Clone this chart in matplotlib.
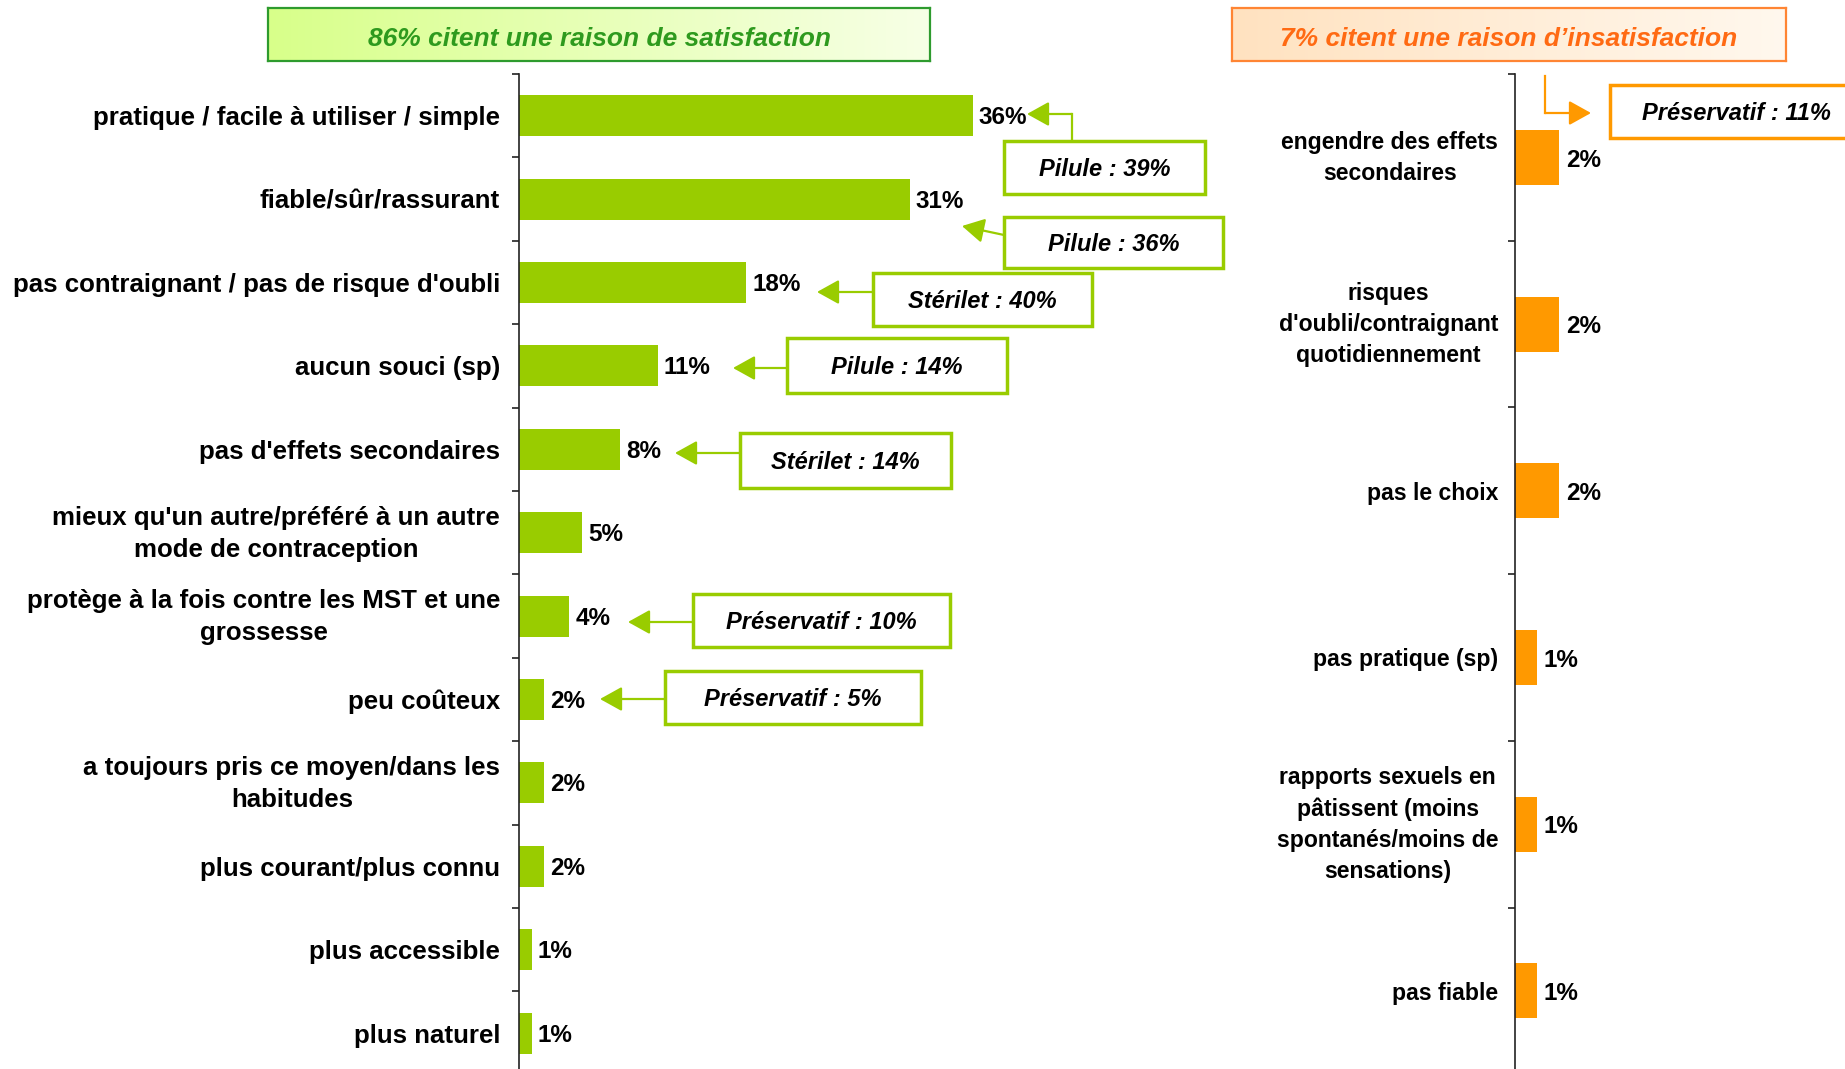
import numpy as np
import matplotlib
matplotlib.use('Agg')
import matplotlib.pyplot as plt
from matplotlib.patches import Rectangle, FancyArrowPatch
from matplotlib.transforms import Affine2D, ScaledTranslation, blended_transform_factory
from matplotlib.lines import Line2D
from matplotlib.colors import LinearSegmentedColormap

# ---------------- data ----------------
sat_title = "86% citent une raison de satisfaction"
sat_labels = [
    "pratique / facile à utiliser / simple",
    "fiable/sûr/rassurant",
    "pas contraignant / pas de risque d'oubli",
    "aucun souci (sp)",
    "pas d'effets secondaires",
    "mieux qu'un autre/préféré à un autre\nmode de contraception",
    "protège à la fois contre les MST et une\ngrossesse",
    "peu coûteux",
    "a toujours pris ce moyen/dans les\nhabitudes",
    "plus courant/plus connu",
    "plus accessible",
    "plus naturel",
]
sat_values = [36, 31, 18, 11, 8, 5, 4, 2, 2, 2, 1, 1]

insat_title = "7% citent une raison d\u2019insatisfaction"
insat_labels = [
    "engendre des effets\nsecondaires",
    "risques\nd'oubli/contraignant\nquotidiennement",
    "pas le choix",
    "pas pratique (sp)",
    "rapports sexuels en\npâtissent (moins\nspontanés/moins de\nsensations)",
    "pas fiable",
]
insat_values = [2, 2, 2, 1, 1, 1]

sat_callouts = ["Pilule : 39%", "Pilule : 36%", "Stérilet : 40%", "Pilule : 14%",
                "Stérilet : 14%", "Préservatif : 10%", "Préservatif : 5%"]
insat_callout = "Préservatif : 11%"

# ---------------- layout (pixels, from top-left) ----------------
W, H, DPI = 1845, 1069, 100
GREEN, ORANGE = '#99CC00', '#FF9900'

sat_boxes = [(1004, 141, 1205, 194), (1004, 217, 1223, 268), (873, 273, 1092, 326),
             (787, 338, 1007, 393), (740, 433, 951, 488), (693, 594, 950, 647),
             (665, 671, 921, 724)]
sat_arrows = [[(1072, 141), (1072, 114), (1027, 114)],
              [(1004, 235), (962, 226)],
              [(872, 292), (817, 292)],
              [(786, 368), (733, 368)],
              [(739, 453), (675, 453)],
              [(692, 622), (628, 622)],
              [(664, 699), (600, 699)]]
insat_box = (1610, 85, 1862, 138)
insat_arrow = [(1545, 76), (1545, 113), (1591, 113)]

plt.rcParams['font.family'] = ['Liberation Sans', 'DejaVu Sans']

fig = plt.figure(figsize=(W / DPI, H / DPI), dpi=DPI)
fig.patch.set_facecolor('white')
px = Affine2D().scale(1 / W, -1 / H).translate(0, 1) + fig.transFigure


def rect(x0, y0, x1, y1):
    return [x0 / W, 1 - y1 / H, (x1 - x0) / W, (y1 - y0) / H]


def style_axis(ax, n, labels, pad, fs, ls, lift):
    ax.set_ylim(n - 0.5, -0.5)
    ax.set_yticks(range(n))
    ax.set_yticklabels([])
    ax.set_yticks(np.arange(-0.5, n, 1), minor=True)
    ax.tick_params(axis='y', which='major', length=0)
    ax.tick_params(axis='y', which='minor', length=5, width=1.2, color='#222222')
    ax.set_xticks([])
    for s in ['top', 'right', 'bottom']:
        ax.spines[s].set_visible(False)
    ax.spines['left'].set_linewidth(1.2)
    ax.spines['left'].set_color('#222222')
    base = blended_transform_factory(ax.transAxes, ax.transData)
    for i, lab in enumerate(labels):
        dy = lift if '\n' in lab else 0
        tr = base + ScaledTranslation(-pad / 72, dy / 72, fig.dpi_scale_trans)
        ax.text(0, i, lab, transform=tr, ha='right', va='center_baseline',
                multialignment='center', linespacing=ls, fontsize=fs,
                fontweight='bold', color='black')


# ---------------- left chart ----------------
n1 = len(sat_values)
ax1 = fig.add_axes(rect(519, 74, 1230, 74 + 83.4 * n1))
ax1.barh(range(n1), sat_values, height=0.49, color=GREEN)
ax1.set_xlim(0, 711 / 12.6)
style_axis(ax1, n1, sat_labels, 13.5, 18.6, 1.42, 4.0)
for i, v in enumerate(sat_values):
    ax1.annotate(f"{v}%", xy=(v, i), xytext=(4.5, -1.5), textcoords='offset points',
                 ha='left', va='center', fontsize=17.5, fontweight='bold')

# ---------------- right chart ----------------
n2 = len(insat_values)
ax2 = fig.add_axes(rect(1515, 74, 1845, 74 + 166.7 * n2))
ax2.barh(range(n2), insat_values, height=0.33, color=ORANGE)
ax2.set_xlim(0, 330 / 22)
style_axis(ax2, n2, insat_labels, 12, 16.6, 1.45, 4.5)
for i, v in enumerate(insat_values):
    ax2.annotate(f"{v}%", xy=(v, i), xytext=(5, -2), textcoords='offset points',
                 ha='left', va='center', fontsize=17.5, fontweight='bold')


# ---------------- headers ----------------
def header(box, title, c0, c1, edge, tcol):
    hax = fig.add_axes(rect(*box))
    grad = np.linspace(0, 1, 256).reshape(1, -1)
    cmap = LinearSegmentedColormap.from_list('h', [c0, c1])
    hax.imshow(grad, aspect='auto', cmap=cmap, extent=[0, 1, 0, 1])
    hax.set_xlim(0, 1)
    hax.set_ylim(0, 1)
    hax.set_xticks([])
    hax.set_yticks([])
    for s in hax.spines.values():
        s.set_color(edge)
        s.set_linewidth(1.6)
    hax.text(0.5, 0.42, title, ha='center', va='center', fontsize=19,
             fontweight='bold', fontstyle='italic', color=tcol)


header((268, 8, 930, 61), sat_title, '#D8FF8A', '#F7FFE6', '#2E9B2E', '#2E9A1E')
header((1232, 8, 1786, 61), insat_title, '#FFE2C0', '#FFF8EE', '#FF8533', '#FF6A13')


# ---------------- callouts ----------------
def callout(box, text, path, col):
    x0, y0, x1, y1 = box
    fig.add_artist(Rectangle((x0, y0), x1 - x0, y1 - y0, transform=px,
                             facecolor='white', edgecolor=col, linewidth=2.5,
                             zorder=5))
    fig.text((x0 + x1) / 2, (y0 + y1) / 2 + 2, text, transform=px, ha='center',
             va='center', fontsize=17, fontweight='bold', fontstyle='italic',
             zorder=6)
    if len(path) > 2:
        xs = [p[0] for p in path[:-1]]
        ys = [p[1] for p in path[:-1]]
        fig.add_artist(Line2D(xs, ys, transform=px, color=col, linewidth=1.6,
                              solid_capstyle='projecting', zorder=4))
    fig.add_artist(FancyArrowPatch(path[-2], path[-1], transform=px,
                                   arrowstyle='-|>,head_length=0.9,head_width=0.5',
                                   color=col, lw=1.6, shrinkA=0, shrinkB=0,
                                   mutation_scale=15, zorder=4))


for box, text, path in zip(sat_boxes, sat_callouts, sat_arrows):
    callout(box, text, path, GREEN)
callout(insat_box, insat_callout, insat_arrow, ORANGE)

fig.savefig('out.png', dpi=DPI, facecolor='white')
